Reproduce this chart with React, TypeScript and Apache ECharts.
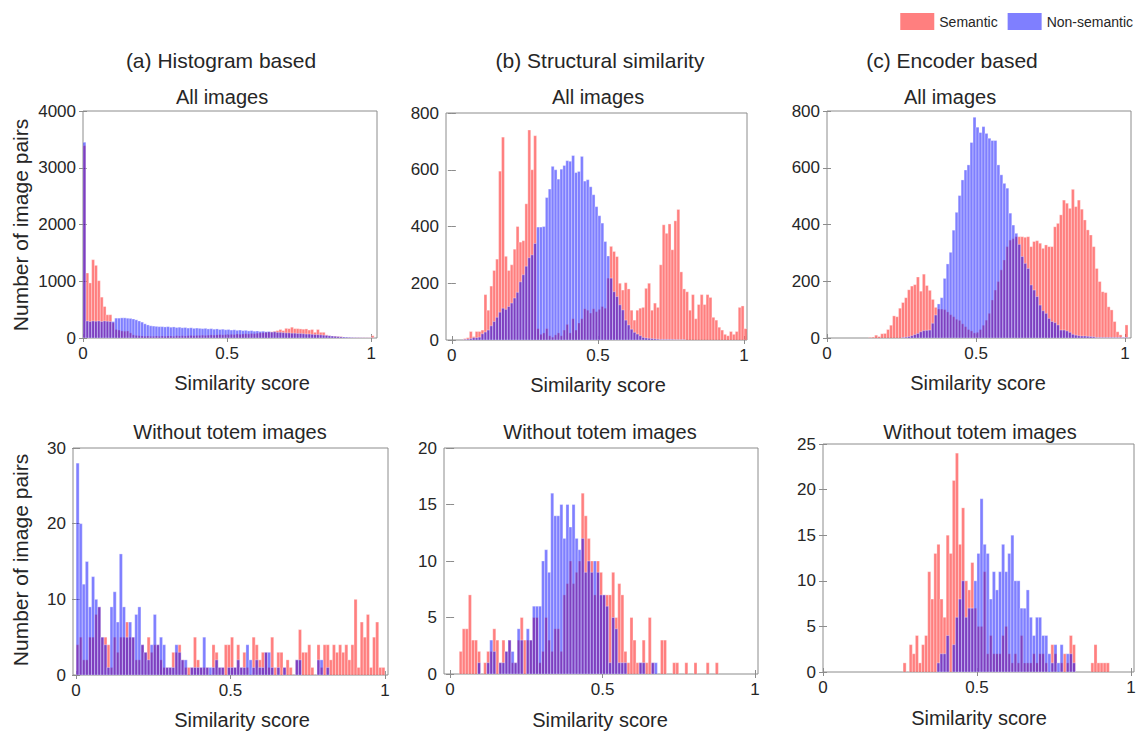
import React, { useEffect, useRef } from 'react';
import * as echarts from 'echarts';

const BIN = 0.01;
const X_TICKS = [0, 0.5, 1];

// (a) Histogram based — All images
const A_SEM = [
  3390, 1145, 970, 1380, 1280, 1010, 720, 555, 410, 410,
  270, 150, 140, 125, 120, 125, 90, 55, 45, 40,
  35, 30, 35, 30, 30, 35, 30, 35, 30, 35,
  35, 30, 40, 35, 40, 35, 40, 45, 40, 45,
  45, 50, 45, 50, 55, 50, 55, 60, 55, 60,
  60, 65, 60, 70, 65, 70, 75, 70, 80, 75,
  85, 90, 95, 100, 105, 110, 120, 130, 150, 130,
  170, 165, 190, 165, 165, 160, 155, 160, 140, 150,
  100, 150, 100, 100, 55, 40, 35, 35, 30, 25,
  15, 12, 12, 10, 10, 10, 8, 8, 6, 6,
  40,
];
const A_NON = [
  3450, 300, 290, 300, 295, 300, 290, 300, 295, 290,
  290, 350, 350, 355, 355, 350, 345, 335, 320, 300,
  280, 250, 230, 215, 210, 205, 200, 200, 195, 200,
  190, 195, 185, 190, 180, 185, 175, 180, 170, 175,
  170, 165, 170, 160, 165, 155, 160, 150, 155, 145,
  150, 140, 145, 135, 140, 130, 135, 125, 130, 120,
  125, 115, 120, 110, 115, 105, 110, 100, 100, 95,
  90, 90, 85, 85, 80, 80, 75, 70, 70, 65,
  60, 60, 55, 50, 45, 40, 35, 30, 25, 20,
  18, 15, 12, 10, 8, 6, 5, 4, 3, 2,
  2,
];

// (b) Structural similarity — All images
const B_SEM = [
  0, 0, 0, 0, 5, 8, 30, 12, 30, 30,
  35, 160, 105, 190, 245, 285, 595, 715, 295, 245,
  265, 320, 400, 345, 350, 480, 740, 600, 720, 40,
  20, 25, 40, 15, 10, 18, 25, 15, 35, 55,
  25, 75, 35, 60, 75, 110, 105, 95, 110, 100,
  108, 118, 112, 218, 330, 312, 294, 200, 176, 202,
  180, 105, 70, 105, 112, 115, 182, 200, 105, 130,
  115, 265, 406, 376, 409, 318, 420, 460, 240, 180,
  170, 105, 160, 75, 125, 160, 125, 160, 150, 80,
  70, 45, 35, 20, 15, 30, 20, 30, 115, 120,
  40,
];
const B_NON = [
  0, 0, 0, 0, 2, 3, 5, 8, 8, 10,
  22, 28, 35, 50, 65, 80, 98, 112, 108, 118,
  130, 148, 168, 205, 230, 260, 290, 300, 340, 398,
  398, 400, 502, 532, 612, 600, 567, 602, 615, 632,
  630, 650, 590, 594, 647, 560, 565, 540, 512, 470,
  438, 412, 347, 296, 218, 170, 153, 124, 106, 70,
  53, 38, 27, 21, 15, 9, 7, 6, 5, 4,
  3, 2, 2, 2, 2, 2, 1, 1, 1, 1,
];

// (c) Encoder based — All images
const C_SEM = [
  0, 0, 0, 0, 0, 0, 0, 0, 0, 0,
  0, 0, 0, 0, 2, 3, 10, 5, 15, 16,
  30, 45, 78, 75, 105, 125, 142, 170, 183, 188,
  215, 165, 225, 185, 168, 136, 108, 102, 102, 100,
  92, 82, 75, 66, 62, 50, 40, 30, 25, 18,
  20, 30, 45, 63, 87, 134, 169, 199, 240, 275,
  322, 345, 350, 357, 357, 357, 355, 357, 322, 340,
  343, 334, 316, 328, 322, 322, 392, 404, 434, 486,
  475, 457, 524, 463, 486, 454, 416, 381, 363, 322,
  245, 199, 163, 160, 110, 99, 58, 22, 11, 2,
  46,
];
const C_NON = [
  0, 0, 0, 0, 0, 0, 0, 0, 0, 0,
  0, 0, 0, 0, 0, 0, 0, 0, 0, 0,
  0, 0, 0, 0, 0, 2, 3, 5, 8, 12,
  16, 22, 26, 27, 28, 52, 81, 120, 142, 210,
  261, 302, 380, 443, 502, 557, 592, 610, 689, 778,
  743, 724, 745, 721, 704, 696, 696, 610, 575, 545,
  528, 440, 398, 369, 330, 287, 263, 245, 187, 169,
  146, 116, 96, 87, 69, 58, 54, 46, 28, 28,
  25, 20, 13, 10, 8, 7, 7, 6, 5, 4,
  2, 2, 2, 2, 2, 2, 2, 2, 2, 2,
  2,
];

// (a) Without totem images
const D_SEM = [
  4, 5, 2, 2, 5, 5, 8, 9, 5, 5,
  4, 1, 5, 3, 5, 5, 7, 5, 5, 2,
  2, 4, 3, 5, 3, 4, 4, 2, 1, 1,
  1, 3, 3, 4, 2, 1, 1, 1, 5, 2,
  1, 1, 1, 0, 4, 3, 1, 1, 4, 4,
  5, 1, 4, 1, 3, 1, 0, 5, 4, 2,
  3, 3, 1, 5, 1, 3, 3, 1, 2, 1,
  0, 2, 6, 3, 3, 4, 1, 0, 4, 1,
  4, 4, 2, 4, 3, 4, 3, 4, 2, 4,
  10, 1, 7, 5, 8, 1, 5, 7, 1, 1,
];
const D_NON = [
  28, 20, 12, 15, 9, 13, 10, 9, 5, 4,
  1, 9, 11, 7, 16, 9, 5, 7, 5, 8,
  9, 4, 3, 2, 4, 8, 4, 5, 4, 1,
  1, 1, 4, 3, 2, 2, 0, 1, 1, 1,
  1, 5, 1, 1, 1, 2, 1, 1, 0, 1,
  1, 1, 2, 1, 1, 4, 2, 1, 2, 1,
  1, 3, 3, 1, 0, 1, 0, 1, 0, 0,
  0, 2, 2, 0, 0, 0, 0, 0, 2, 2,
  0, 1, 0, 0, 0, 0, 0, 0, 0, 0,
];

// (b) Without totem images
const E_SEM = [
  0, 0, 0, 2, 4, 4, 7, 3, 3, 2,
  0, 1, 2, 2, 4, 3, 1, 3, 2, 3,
  1, 1, 3, 5, 3, 3, 3, 5, 5, 1,
  2, 5, 3, 2, 4, 4, 2, 7, 8, 10,
  8, 9, 10, 16, 14, 12, 10, 7, 10, 9,
  7, 7, 7, 9, 5, 8, 7, 2, 1, 5,
  3, 1, 1, 3, 1, 5, 1, 0, 0, 3,
  3, 0, 0, 1, 1, 0, 0, 1, 0, 0,
  1, 0, 0, 0, 1, 0, 0, 1,
];
const E_NON = [
  0, 0, 0, 0, 0, 0, 0, 0, 0, 1,
  0, 0, 1, 3, 2, 0, 1, 1, 2, 3,
  2, 1, 4, 3, 0, 4, 3, 6, 6, 6,
  10, 11, 9, 16, 14, 14, 15, 12, 15, 13,
  15, 12, 11, 12, 9, 10, 9, 10, 9, 7,
  7, 6, 1, 5, 4, 1, 1, 1, 0, 0,
  0, 0, 1, 1, 0, 0, 1, 1,
];

// (c) Without totem images
const F_SEM = [
  0, 0, 0, 0, 0, 0, 0, 0, 0, 0,
  0, 0, 0, 0, 0, 0, 0, 0, 0, 0,
  0, 0, 0, 0, 0, 0, 1, 0, 3, 2,
  4, 1, 3, 4, 11, 8, 13, 14, 8, 6,
  15, 13, 21, 24, 14, 18, 10, 9, 12, 7,
  5, 5, 11, 2, 4, 2, 2, 2, 4, 5,
  2, 1, 2, 1, 4, 1, 1, 1, 2, 1,
  2, 2, 1, 0, 3, 2, 0, 1, 2, 1,
  4, 3, 0, 0, 0, 0, 0, 1, 3, 1,
  1, 1, 1,
];
const F_NON = [
  0, 0, 0, 0, 0, 0, 0, 0, 0, 0,
  0, 0, 0, 0, 0, 0, 0, 0, 0, 0,
  0, 0, 0, 0, 0, 0, 0, 0, 0, 0,
  0, 0, 0, 0, 0, 0, 0, 1, 2, 2,
  4, 0, 3, 6, 8, 10, 6, 7, 7, 10,
  13, 19, 14, 13, 8, 11, 9, 11, 14, 11,
  13, 15, 10, 10, 7, 7, 9, 6, 4, 6,
  6, 4, 4, 2, 1, 3, 1, 3, 0, 2,
  2, 1,
];

const COLUMN_TITLES = ['(a) Histogram based', '(b) Structural similarity', '(c) Encoder based'];
const ROW_TITLES = ['All images', 'Without totem images'];
const X_NAME = 'Similarity score';
const Y_NAME = 'Number of image pairs';
const LEGEND = ['Semantic', 'Non-semantic'];

const RED = 'rgba(255,0,0,0.5)';
const BLUE = 'rgba(0,0,255,0.5)';
const FONT = '"Liberation Sans", Arial, Helvetica, sans-serif';
const TXT = '#262626';

const PANELS = [
  { sem: A_SEM, non: A_NON, xMin: 0, xMax: 1.02, yMax: 4000, yStep: 1000, g: { left: 83, top: 111, width: 294, height: 227 } },
  { sem: B_SEM, non: B_NON, xMin: -0.02, xMax: 1.01, yMax: 800, yStep: 200, g: { left: 446, top: 113, width: 301, height: 227 } },
  { sem: C_SEM, non: C_NON, xMin: 0, xMax: 1.02, yMax: 800, yStep: 200, g: { left: 827, top: 111, width: 304, height: 227 } },
  { sem: D_SEM, non: D_NON, xMin: -0.01, xMax: 1.01, yMax: 30, yStep: 10, g: { left: 73, top: 448, width: 315, height: 227 } },
  { sem: E_SEM, non: E_NON, xMin: -0.02, xMax: 1.01, yMax: 20, yStep: 5, g: { left: 444, top: 448, width: 314, height: 226 } },
  { sem: F_SEM, non: F_NON, xMin: 0, xMax: 1.01, yMax: 25, yStep: 5, g: { left: 823, top: 444, width: 311, height: 228 } },
];

const toData = (arr: number[]) => arr.map((v, k) => [k * BIN, v]);

const makeRender = (color: string) => (params: any, api: any) => {
  const x0 = api.value(0);
  const v = api.value(1);
  if (!v) return null;
  const a = api.coord([x0, v]);
  const b = api.coord([x0 + BIN, 0]);
  return {
    type: 'rect',
    shape: { x: a[0], y: a[1], width: b[0] - a[0], height: b[1] - a[1] },
    style: { fill: color, stroke: 'rgba(255,255,255,0.55)', lineWidth: 0.6 },
  };
};

export default function App() {
  const ref = useRef<HTMLDivElement>(null);
  useEffect(() => {
    if (!ref.current) return;
    const chart = echarts.init(ref.current, undefined, { renderer: 'svg' });
    const grid: any[] = [];
    const xAxis: any[] = [];
    const yAxis: any[] = [];
    const series: any[] = [];
    PANELS.forEach((p, i) => {
      grid.push({ ...p.g, show: true, borderColor: '#8c8c8c', borderWidth: 1, backgroundColor: '#fff' });
      const tick = { show: true, inside: true, length: 4, customValues: X_TICKS, lineStyle: { color: '#8c8c8c' } };
      xAxis.push({
        gridIndex: i, type: 'value', min: p.xMin, max: p.xMax, position: 'bottom',
        axisLine: { show: false }, splitLine: { show: false },
        axisTick: tick,
        axisLabel: { customValues: X_TICKS, formatter: (v: number) => String(v), color: TXT, fontSize: 17, fontFamily: FONT, margin: 7 },
      });
      xAxis.push({
        gridIndex: i, type: 'value', min: p.xMin, max: p.xMax, position: 'top',
        axisLine: { show: false }, splitLine: { show: false },
        axisTick: tick, axisLabel: { show: false },
      });
      const yTick = { show: true, inside: true, length: 4, lineStyle: { color: '#8c8c8c' } };
      yAxis.push({
        gridIndex: i, type: 'value', min: 0, max: p.yMax, interval: p.yStep, position: 'left',
        axisLine: { show: false }, splitLine: { show: false }, axisTick: yTick,
        axisLabel: { color: TXT, fontSize: 17, fontFamily: FONT, margin: 7, formatter: (v: number) => String(v) },
      });
      yAxis.push({
        gridIndex: i, type: 'value', min: 0, max: p.yMax, interval: p.yStep, position: 'right',
        axisLine: { show: false }, splitLine: { show: false }, axisTick: yTick,
        axisLabel: { show: false },
      });
      series.push({
        type: 'custom', name: LEGEND[0], xAxisIndex: 2 * i, yAxisIndex: 2 * i,
        data: toData(p.sem), encode: { x: 0, y: 1 }, renderItem: makeRender(RED),
        itemStyle: { color: RED }, clip: true,
      });
      series.push({
        type: 'custom', name: LEGEND[1], xAxisIndex: 2 * i, yAxisIndex: 2 * i,
        data: toData(p.non), encode: { x: 0, y: 1 }, renderItem: makeRender(BLUE),
        itemStyle: { color: BLUE }, clip: true,
      });
    });

    const text = (t: string, x: number, y: number, size: number, rotation = 0) => ({
      type: 'text', x, y, rotation,
      style: { text: t, fill: TXT, font: `${size}px ${FONT}`, textAlign: 'center', textVerticalAlign: 'middle' },
    });
    const graphic: any[] = [
      text(COLUMN_TITLES[0], 221, 60, 21),
      text(COLUMN_TITLES[1], 600, 60, 21),
      text(COLUMN_TITLES[2], 952, 60, 21),
      text(ROW_TITLES[0], 222, 97, 20),
      text(ROW_TITLES[0], 598, 97, 20),
      text(ROW_TITLES[0], 950, 97, 20),
      text(ROW_TITLES[1], 230, 432, 20),
      text(ROW_TITLES[1], 600, 432, 20),
      text(ROW_TITLES[1], 980, 432, 20),
      text(X_NAME, 242, 383, 20),
      text(X_NAME, 598, 385, 20),
      text(X_NAME, 978, 383, 20),
      text(X_NAME, 242, 720, 20),
      text(X_NAME, 600, 720, 20),
      text(X_NAME, 979, 718, 20),
      text(Y_NAME, 20, 225, 21, Math.PI / 2),
      text(Y_NAME, 20, 560, 21, Math.PI / 2),
    ];

    chart.setOption({
      animation: false,
      backgroundColor: '#fff',
      textStyle: { fontFamily: FONT },
      legend: {
        data: LEGEND, top: 8, right: 4, icon: 'rect', itemWidth: 34, itemHeight: 17, itemGap: 10,
        textStyle: { fontSize: 14, color: TXT, fontFamily: FONT },
      },
      grid, xAxis, yAxis, series, graphic,
    });
    return () => chart.dispose();
  }, []);
  return <div ref={ref} style={{ position: 'fixed', left: 0, top: 0, width: 1142, height: 737 }} />;
}
